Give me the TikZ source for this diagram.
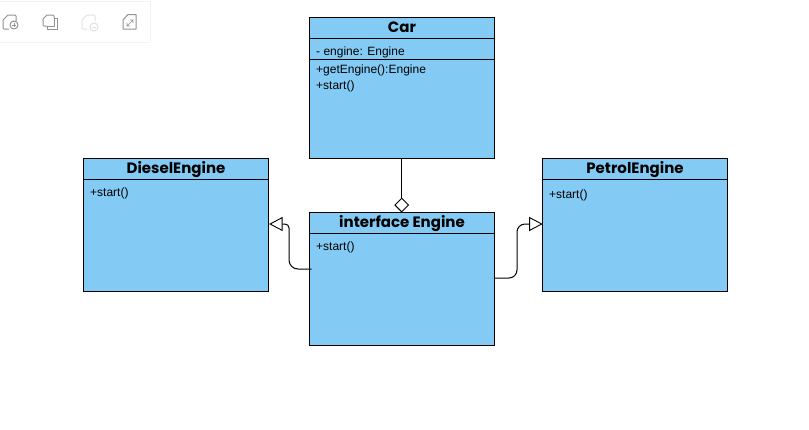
\documentclass[tikz,border=0pt]{standalone}
\usepackage{fontspec}
\setmainfont{Liberation Sans}
\newfontfamily\titlefont{Poppins}
\usetikzlibrary{arrows.meta,shapes.geometric,calc}
\definecolor{boxblue}{HTML}{83CBF5}
\definecolor{iconline}{HTML}{8E9292}
\definecolor{iconpale}{HTML}{DFE1E1}
\definecolor{barline}{HTML}{F1F4F3}
\tikzset{
  x=1pt,y=-1pt,
  classbox/.style={draw=black,fill=boxblue,line width=0.9pt,minimum width=185pt,inner sep=0pt,anchor=north west},
  divider/.style={draw=black,line width=0.9pt},
  classtitle/.style={font=\titlefont\bfseries\fontsize{15}{15}\selectfont,inner sep=0pt,anchor=center},
  member/.style={font=\fontsize{12}{12}\selectfont,inner sep=0pt,anchor=west},
  connector/.style={draw=black,line width=1pt},
  realizes/.style={connector,-{Triangle[open,fill=white,length=13.5pt,width=14pt,line width=0.9pt]}},
  aggmark/.style={draw=black,fill=white,line width=0.9pt,shape=diamond,minimum width=14pt,minimum height=14pt,inner sep=0pt},
  iconstroke/.style={draw=iconline,line width=1pt,line join=round},
  iconfaint/.style={draw=iconpale,line width=1pt,line join=round},
}
\begin{document}
\begin{tikzpicture}
\useasboundingbox (0,0) rectangle (809,429);
\fill[white] (0,0) rectangle (809,429);
% toolbar
\draw[barline,line width=0.8pt] (0,1) -- (150,1) -- (150,42) -- (0,42);
% icon 1
\draw[iconstroke] (9,29) -- (4,29) -- (3,28) -- (3,20) -- (8,15) -- (15,15) -- (16,16) -- (16,21);
\draw[iconstroke] (14,25) circle (4);
\draw[iconstroke,line width=0.6pt] (12,25) -- (16,25) (14,23) -- (14,27);
% icon 2
\draw[iconstroke] (47,26) -- (44,26) -- (43,25) -- (43,19) -- (47,15) -- (53,15) -- (54,16) -- (54,18);
\draw[iconstroke] (47,26) -- (47,29) -- (57,29) -- (57,18) -- (54,18) -- (54,26) -- (47,26);
% icon 3
\draw[iconfaint] (87,29) -- (83,29) -- (82,28) -- (82,20) -- (87,15) -- (94,15) -- (95,16) -- (95,21);
\draw[iconfaint] (94,27) circle (4);
\draw[iconfaint,line width=0.6pt] (92,27) -- (96,27);
% icon 4
\draw[iconstroke] (123,29) -- (123,20) -- (128,14.5) -- (136,14.5) -- (136,29) -- cycle;
\draw[iconstroke,line width=0.6pt] (127,26) -- (133,20) (130,20) -- (133,20) -- (133,23) (127,23) -- (127,26) -- (130,26);

% class boxes
\node[classbox,minimum height=141pt] (car) at (309.3,16.9) {};
\node[classbox,minimum height=133pt] (diesel) at (82.9,157.6) {};
\node[classbox,minimum height=133pt] (petrol) at (541.9,157.6) {};
\node[classbox,minimum height=132.5pt] (iface) at (309,212) {};

\draw[divider] ($(car.north west)+(0,21.3)$) -- ($(car.north east)+(0,21.3)$);
\draw[divider] ($(car.north west)+(0,42.3)$) -- ($(car.north east)+(0,42.3)$);
\draw[divider] ($(diesel.north west)+(0,21.5)$) -- ($(diesel.north east)+(0,21.5)$);
\draw[divider] ($(petrol.north west)+(0,21.5)$) -- ($(petrol.north east)+(0,21.5)$);
\draw[divider] ($(iface.north west)+(0,21)$) -- ($(iface.north east)+(0,21)$);

% text
\node[classtitle] (cartitle) at (402,27.6) {Car};
\node[member] (carattr) at (316,52.2) {- engine: Engine};
\node[member] (carop1) at (316,70.5) {+getEngine():Engine};
\node[member] (carop2) at (316,86.5) {+start()};
\node[classtitle] (dieseltitle) at (176,170) {DieselEngine};
\node[member] (dieselop) at (90,193.5) {+start()};
\node[classtitle] (petroltitle) at (635,170) {PetrolEngine};
\node[member] (petrolop) at (549,195.5) {+start()};
\node[classtitle] (ifacetitle) at (402,223.5) {interface Engine};
\node[member] (ifaceop) at (316,247.5) {+start()};

% connectors
\node[aggmark] (agg) at (401.7,205) {};
\draw[connector] (car.south -| agg) -- (agg.north);
\coordinate (dieselport) at ($(diesel.north east)+(0.3,66.4)$);
\coordinate (ifaceleft) at ($(iface.north west)+(2.5,57)$);
\coordinate (petrolport) at ($(petrol.north west)+(0.8,66.4)$);
\coordinate (ifaceright) at ($(iface.north east)+(0,66)$);
\draw[realizes] (ifaceleft) [rounded corners=9pt] -- (289,269) [rounded corners=4pt] -- (289,224) [sharp corners] -- (dieselport);
\draw[realizes] (ifaceright) [rounded corners=8pt] -- (517,278) -- (517,224) [sharp corners] -- (petrolport);
\end{tikzpicture}
\end{document}
